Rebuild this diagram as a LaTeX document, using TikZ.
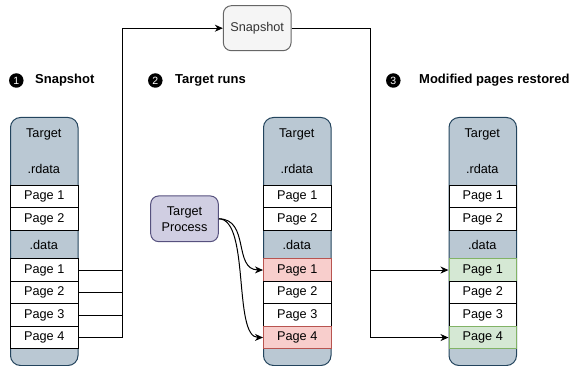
\documentclass[tikz,border=0pt]{standalone}
\usepackage{fontspec}
\setmainfont{Liberation Sans}
\usetikzlibrary{arrows.meta,calc}

\definecolor{colfill}{HTML}{BAC8D3}
\definecolor{coldraw}{HTML}{23445D}
\definecolor{redfill}{HTML}{F8CECC}
\definecolor{reddraw}{HTML}{B85450}
\definecolor{greenfill}{HTML}{D5E8D4}
\definecolor{greendraw}{HTML}{82B366}
\definecolor{procfill}{HTML}{D0CEE2}
\definecolor{procdraw}{HTML}{56517E}
\definecolor{snapfill}{HTML}{F5F5F5}
\definecolor{snapdraw}{HTML}{666666}
\definecolor{snaptext}{HTML}{333333}

\tikzset{
  txt/.style={font=\fontsize{12.7}{15}\selectfont},
  colbody/.style={draw=coldraw, fill=colfill, line width=1pt, rounded corners=10pt,
    minimum width=67.5pt, minimum height=248pt, inner sep=0pt, anchor=north west},
  collabel/.style={txt, inner sep=0pt},
  pagebox/.style={txt, draw=black, fill=white, line width=1pt, minimum width=67.5pt,
    minimum height=22.5pt, inner sep=0pt, anchor=north west},
  modpage/.style={pagebox, draw=reddraw, fill=redfill},
  restpage/.style={pagebox, draw=greendraw, fill=greenfill},
  stepnum/.style={circle, fill=black, text=white, inner sep=0pt, minimum size=14.5pt,
    font=\fontsize{10.5}{11}\selectfont},
  steptext/.style={anchor=west, inner sep=0pt, font=\fontsize{13}{15}\selectfont\bfseries},
  conn/.style={line width=1pt, draw=black},
  arr/.style={conn, -{Stealth[length=8pt,width=7pt,inset=2.5pt]}},
}

% One memory column: #1 name prefix, #2 left edge, #3 style of .data page 1, #4 style of .data page 4
\newcommand{\memcolumn}[4]{%
  \node[colbody] (#1) at (#2,117) {};
  \node[collabel] (#1t) at ($(#2,134)+(33.75,0)$) {Target};
  \node[collabel] (#1r) at ($(#2,169)+(33.75,0)$) {.rdata};
  \node[collabel] (#1d) at ($(#2,245)+(33.75,0)$) {.data};
  \node[pagebox] (#1R1) at (#2,185) {Page 1};
  \node[pagebox] (#1R2) at (#2,207.5) {Page 2};
  \node[#3] (#1D1) at (#2,258.3) {Page 1};
  \node[pagebox] (#1D2) at (#2,280.8) {Page 2};
  \node[pagebox] (#1D3) at (#2,303.3) {Page 3};
  \node[#4] (#1D4) at (#2,325.8) {Page 4};
}

\begin{document}
\begin{tikzpicture}[x=1pt, y=-1pt]
  \useasboundingbox (0,0) rectangle (573,366);

  % step headings
  \node[stepnum] (n1) at (16.3,80.5) {1};
  \node[steptext] (s1) at (35,80) {Snapshot};
  \node[stepnum] (n2) at (155.3,80.5) {2};
  \node[steptext] (s2) at (175,80) {Target runs};
  \node[stepnum] (n3) at (393.3,80.5) {3};
  \node[steptext] (s3) at (419,80) {Modified pages restored};

  % the three memory images
  \memcolumn{a}{10}{pagebox}{pagebox}
  \memcolumn{b}{263}{modpage}{modpage}
  \memcolumn{c}{448.5}{restpage}{restpage}

  % snapshot store and the running process
  \node[draw=snapdraw, fill=snapfill, text=snaptext, line width=1pt, rounded corners=8pt,
    minimum width=67.7pt, minimum height=45pt, inner sep=0pt, txt] (snap) at (257.2,28.2) {Snapshot};
  \node[draw=procdraw, fill=procfill, line width=1pt, rounded corners=8pt,
    minimum width=67.6pt, minimum height=45.7pt, inner sep=0pt, align=center,
    font=\fontsize{12.7}{16}\selectfont] (proc) at (184.5,218.8) {Target\\Process};

  % pages copied into the snapshot
  \coordinate (busL) at (122,0);
  \draw[conn] (aD1.east) -- (aD1.east -| busL);
  \draw[conn] (aD2.east) -- (aD2.east -| busL);
  \draw[conn] (aD3.east) -- (aD3.east -| busL);
  \draw[conn] (aD4.east) -- (aD4.east -| busL) -- (aD1.east -| busL);
  \draw[arr] (aD1.east -| busL) |- (snap.west);

  % process writes to pages
  \draw[arr] (proc.east) .. controls (250,219) and (233,269.5) .. (bD1.west);
  \draw[arr] (proc.east) .. controls (250,219) and (233,337) .. (bD4.west);

  % snapshot restores modified pages
  \coordinate (busR) at (370,0);
  \draw[conn] (snap.east) -| (busR |- cD1.west);
  \draw[arr] (busR |- cD1.west) -- (cD1.west);
  \draw[arr] (busR |- cD1.west) |- (cD4.west);
\end{tikzpicture}
\end{document}
